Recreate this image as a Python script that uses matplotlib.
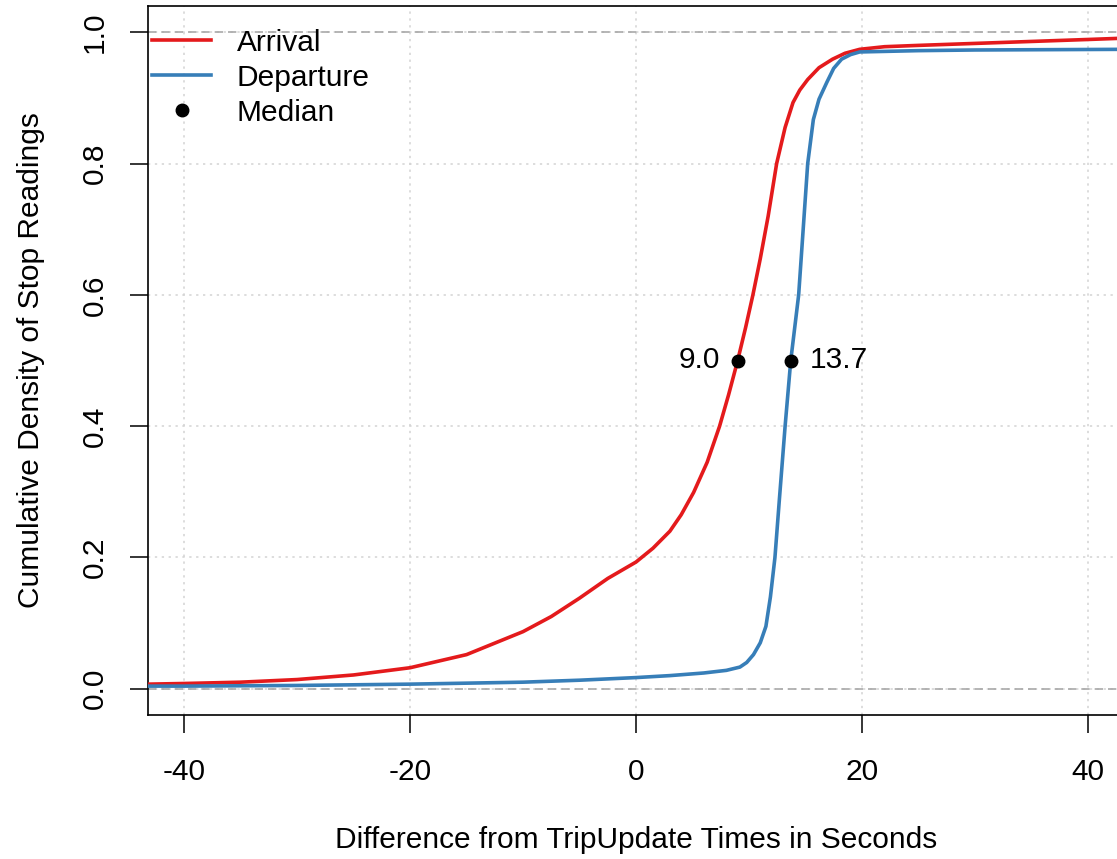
import matplotlib
matplotlib.use('Agg')
import matplotlib.pyplot as plt
import numpy as np

# values (seconds, cumulative share)
arrival_x = [-43.2, -40, -35, -30, -25, -20, -15, -10, -7.5, -5, -2.5, 0, 1.5,
             3, 4, 5.1, 6.3, 7.4, 8.2, 9.0, 9.7, 10.35, 11.0, 11.7, 12.45,
             13.2, 13.9, 14.5, 15.2, 16.2, 17.4, 18.5, 19.8, 22, 25, 30, 35, 40, 43.2]
arrival_y = [0.007, 0.008, 0.010, 0.014, 0.021, 0.032, 0.052, 0.087, 0.110,
             0.138, 0.168, 0.193, 0.214, 0.240, 0.265, 0.299, 0.345, 0.400,
             0.448, 0.500, 0.550, 0.600, 0.655, 0.720, 0.800, 0.855, 0.893,
             0.912, 0.928, 0.946, 0.959, 0.968, 0.974, 0.978, 0.980, 0.983,
             0.986, 0.989, 0.991]
departure_x = [-43.2, -40, -30, -20, -10, -5, 0, 3, 6, 8, 9.2, 9.8, 10.4, 11.0,
               11.5, 11.9, 12.3, 12.7, 13.2, 13.7, 14.4, 14.8, 15.2, 15.7, 16.2,
               16.9, 17.5, 18.2, 19.0, 19.8, 25, 30, 43.2]
departure_y = [0.004, 0.004, 0.005, 0.007, 0.010, 0.013, 0.017, 0.020, 0.024,
               0.028, 0.033, 0.040, 0.052, 0.070, 0.095, 0.140, 0.200, 0.290,
               0.400, 0.500, 0.600, 0.700, 0.800, 0.867, 0.898, 0.924, 0.945,
               0.959, 0.966, 0.970, 0.972, 0.973, 0.974]
medians = [9.0, 13.7]
median_labels = ['9.0', '13.7']

x_ticks = [-40, -20, 0, 20, 40]
y_ticks = [0.0, 0.2, 0.4, 0.6, 0.8, 1.0]

RED = '#E41A1C'
BLUE = '#377EB8'

plt.rcParams['font.family'] = ['Liberation Sans', 'DejaVu Sans']
plt.rcParams['font.size'] = 21.5

W, H = 1117, 859
fig = plt.figure(figsize=(W / 100, H / 100), dpi=100)
# right edge of the box sits just outside the picture, as in the reference
ax = fig.add_axes([148 / W, 1 - 715 / H, (1124 - 148) / W, (715 - 6) / H])
ax.set_xlim(-43.2, 43.2)
ax.set_ylim(-0.04, 1.04)

for x in x_ticks:
    ax.axvline(x, color='#d3d3d3', lw=1.1, ls=(0, (1.5, 3)), zorder=0)
for y in y_ticks:
    ax.axhline(y, color='#d3d3d3', lw=1.1, ls=(0, (1.5, 3)), zorder=0)
for y in [0, 1]:
    ax.axhline(y, color='#a9a9a9', lw=1.2, ls=(0, (5, 3)), zorder=1)

ax.plot(arrival_x, arrival_y, color=RED, lw=2.6, label='Arrival', zorder=3)
ax.plot(departure_x, departure_y, color=BLUE, lw=2.6, label='Departure', zorder=3)
ax.plot(medians, [0.5, 0.5], 'o', color='black', ms=9, ls='none', label='Median', zorder=4)
ax.text(medians[0] - 1.6, 0.5, median_labels[0], ha='right', va='center')
ax.text(medians[1] + 1.7, 0.5, median_labels[1], ha='left', va='center')

ax.set_xticks(x_ticks)
ax.set_xticklabels([str(v) for v in x_ticks])
ax.set_yticks(y_ticks)
ax.set_yticklabels(['%.1f' % v for v in y_ticks], rotation=90, va='center')
ax.tick_params(direction='out', length=13, width=1.1)
ax.tick_params(axis='x', pad=18)
ax.tick_params(axis='y', pad=15)
for s in ax.spines.values():
    s.set_linewidth(1.2)

ax.set_xlabel('Difference from TripUpdate Times in Seconds', labelpad=29)
ax.set_ylabel('Cumulative Density of Stop Readings', labelpad=26)

ax.legend(loc='upper left', bbox_to_anchor=(0, 0.974), frameon=False,
          handlelength=1.95, handletextpad=0.87, labelspacing=0.23,
          borderaxespad=0, borderpad=0.15)

fig.savefig('out.png', dpi=100)
